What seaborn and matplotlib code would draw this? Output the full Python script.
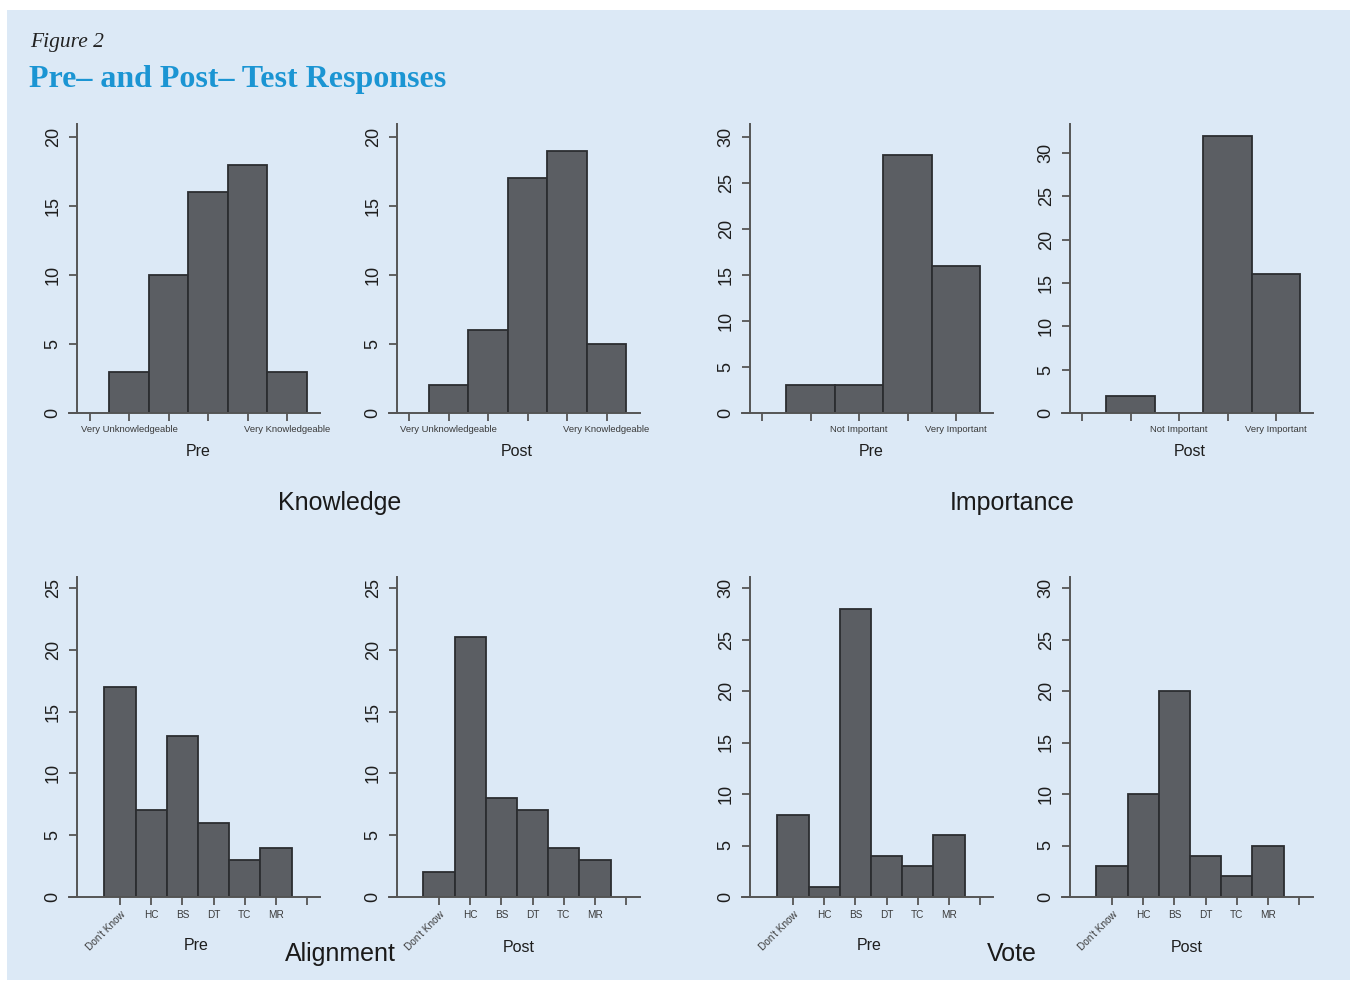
import numpy as np
import seaborn as sns
import matplotlib.pyplot as plt
from matplotlib.patches import Rectangle

# counts
knowledge_vals = [1, 2, 3, 4, 5]
knowledge_pre = [3, 10, 16, 18, 3]
knowledge_post = [2, 6, 17, 19, 5]
knowledge_ticklabels = ["", "Very Unknowledgeable", "", "", "", "Very Knowledgeable"]

importance_vals = [1, 2, 3, 4]
importance_pre = [3, 3, 28, 16]
importance_post = [2, 0, 32, 16]
importance_ticklabels = ["", "", "Not Important", "", "Very Important"]

choice_vals = [0, 1, 2, 3, 4, 5]
choice_ticklabels = ["Don't Know", "HC", "BS", "DT", "TC", "MR", ""]
alignment_pre = [17, 7, 13, 6, 3, 4]
alignment_post = [2, 21, 8, 7, 4, 3]
vote_pre = [8, 1, 28, 4, 3, 6]
vote_post = [3, 10, 20, 4, 2, 5]

W, H = 1355, 982
BG = "#dce9f6"
BAR = "#5b5e63"
EDGE = "#2b2d30"
AXC = "#555555"
TXT = "#1e1e1e"

sns.set_style("white")
plt.rcParams["font.family"] = ["Liberation Sans", "DejaVu Sans"]

fig = plt.figure(figsize=(W / 100, H / 100), dpi=100)
fig.patch.set_facecolor("white")
fig.add_artist(Rectangle((7 / W, 1 - 980 / H), (1350 - 7) / W, (980 - 10) / H,
                         transform=fig.transFigure, facecolor=BG, edgecolor="none", zorder=-10))


def panel(left, right, top, bottom, val0, step, spine_px, ppu, xvals, counts,
          xticklabels, yticks, small=6.8, rotate_first=False):
    ax = fig.add_axes([left / W, 1 - bottom / H, (right - left) / W, (bottom - top) / H])
    sns.histplot(x=xvals, weights=counts, discrete=True, ax=ax, color=BAR,
                 edgecolor=EDGE, linewidth=1.3, alpha=1)
    ax.set_xlim((left - val0) / step, (right - val0) / step)
    ax.set_ylim(0, (bottom - top) / ppu)
    ax.set_facecolor("none")
    ax.set_xlabel("")
    ax.set_ylabel("")
    for s in ["top", "right"]:
        ax.spines[s].set_visible(False)
    for s in ["left", "bottom"]:
        ax.spines[s].set_color(AXC)
        ax.spines[s].set_linewidth(1.4)
    ax.spines["left"].set_position(("data", (spine_px - val0) / step))
    ax.set_yticks(yticks)
    ax.set_yticklabels([str(v) for v in yticks])
    ax.set_xticks(np.arange(len(xticklabels)))
    ax.set_xticklabels(xticklabels)
    ax.tick_params(axis="y", left=True, length=6, width=1.3, color=AXC, labelsize=13,
                   labelcolor=TXT, pad=5)
    ax.tick_params(axis="x", bottom=True, length=6, width=1.3, color=AXC, labelsize=small,
                   labelcolor="#3a3a3a", pad=3)
    for lab in ax.get_yticklabels():
        lab.set_rotation(90)
        lab.set_va("center")
    if rotate_first:
        lab = ax.get_xticklabels()[0]
        lab.set_rotation(45)
        lab.set_ha("right")
        lab.set_rotation_mode("anchor")
        lab.set_fontsize(7.2)
    ax.grid(False)
    return ax


# Knowledge
panel(69, 320, 124, 413, 89.5, 39.5, 77, 13.8, knowledge_vals, knowledge_pre,
      knowledge_ticklabels, [0, 5, 10, 15, 20])
panel(389, 640, 124, 413, 409, 39.5, 397, 13.8, knowledge_vals, knowledge_post,
      knowledge_ticklabels, [0, 5, 10, 15, 20])
# Importance
panel(742, 993, 124, 413, 762, 48.5, 750, 9.2, importance_vals, importance_pre,
      importance_ticklabels, [0, 5, 10, 15, 20, 25, 30])
panel(1062, 1313, 124, 413, 1082, 48.5, 1070, 8.667, importance_vals, importance_post,
      importance_ticklabels, [0, 5, 10, 15, 20, 25, 30])
# Alignment
panel(69, 320, 577, 897, 120, 31.2, 77, 12.36, choice_vals, alignment_pre,
      choice_ticklabels, [0, 5, 10, 15, 20, 25], small=7.2, rotate_first=True)
panel(389, 640, 577, 897, 439, 31.2, 397, 12.36, choice_vals, alignment_post,
      choice_ticklabels, [0, 5, 10, 15, 20, 25], small=7.2, rotate_first=True)
# Vote
panel(742, 993, 577, 897, 793, 31.2, 750, 10.3, choice_vals, vote_pre,
      choice_ticklabels, [0, 5, 10, 15, 20, 25, 30], small=7.2, rotate_first=True)
panel(1062, 1313, 577, 897, 1112, 31.2, 1070, 10.3, choice_vals, vote_post,
      choice_ticklabels, [0, 5, 10, 15, 20, 25, 30], small=7.2, rotate_first=True)


def ftext(x, y, s, **kw):
    fig.text(x / W, 1 - y / H, s, **kw)


for x, y, s in [(198, 452, "Pre"), (517, 452, "Post"), (871, 452, "Pre"), (1190, 452, "Post"),
                (196, 945, "Pre"), (519, 947, "Post"), (869, 945, "Pre"), (1187, 948, "Post")]:
    ftext(x, y, s, ha="center", va="center", fontsize=11.5, color=TXT)

for x, y, s in [(340, 503, "Knowledge"), (1012, 503, "Importance"),
                (340, 954, "Alignment"), (1012, 954, "Vote")]:
    ftext(x, y, s, ha="center", va="center", fontsize=18, color="#1a1a1a")

ftext(30, 42, "Figure 2", ha="left", va="center", fontsize=15.5, style="italic",
      family=["Liberation Serif", "DejaVu Serif"], color="#222222")
ftext(29, 80, "Pre\u2013 and Post\u2013 Test Responses", ha="left", va="center",
      fontsize=23, weight="bold", family=["Liberation Serif", "DejaVu Serif"], color="#1b95d3")

fig.savefig("out.png", dpi=100, facecolor=fig.get_facecolor())
plt.close(fig)
